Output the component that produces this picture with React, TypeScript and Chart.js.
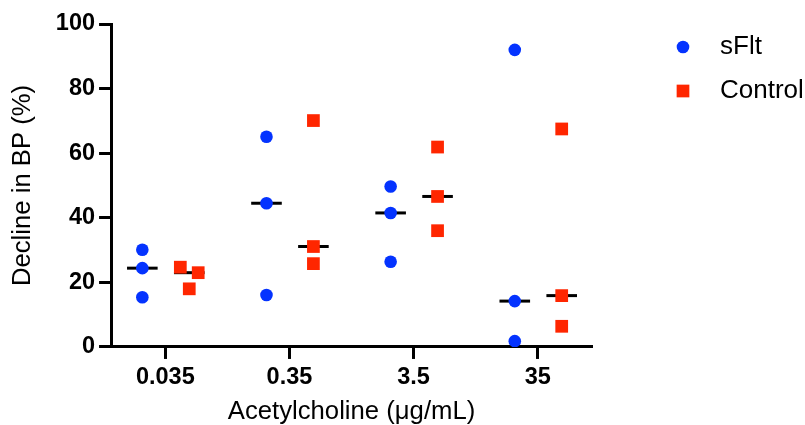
import React, { useEffect, useRef } from 'react';
import { Chart, registerables } from 'chart.js';

Chart.register(...registerables);

// ---- data ----
const doses = ['0.035', '0.35', '3.5', '35'];
const seriesNames = ['sFlt', 'Control'];
const sFltValues = [
  [30.1, 24.4, 15.4],
  [65.1, 44.5, 16.1],
  [49.7, 41.5, 26.4],
  [92.0, 14.2, 1.8],
];
const controlValues = [
  [24.7, 23.0, 18.0],
  [70.1, 31.1, 25.8],
  [61.9, 46.6, 36.0],
  [67.5, 15.9, 6.4],
];
const yTickValues = [0, 20, 40, 60, 80, 100];
const xTitle = 'Acetylcholine (μg/mL)';
const yTitle = 'Decline in BP (%)';

// ---- layout / style constants ----
const SFLT_OFFSET = -0.185;
const CONTROL_OFFSET = 0.193;
const controlJitter = [
  [-0.072, 0.072, 0],
  [0, 0, 0],
  [0, 0, 0],
  [0, 0, 0],
];
const BLUE = '#0433FF';
const RED = '#FF2600';
const FONT = '"Liberation Sans", Arial, Helvetica, sans-serif';

function median(a: number[]) {
  const s = [...a].sort((p, q) => p - q);
  const m = Math.floor(s.length / 2);
  return s.length % 2 ? s[m] : (s[m - 1] + s[m]) / 2;
}

function makeIcon(shape: 'circle' | 'square', color: string) {
  const c = document.createElement('canvas');
  c.width = 16;
  c.height = 16;
  const ctx = c.getContext('2d')!;
  ctx.fillStyle = color;
  if (shape === 'circle') {
    ctx.beginPath();
    ctx.arc(8, 8, 6.3, 0, Math.PI * 2);
    ctx.fill();
  } else {
    ctx.fillRect(8 - 6.35, 8 - 6.35, 12.7, 12.7);
  }
  return c;
}

const points = (values: number[][], offset: number, jitter?: number[][]) =>
  values.flatMap((grp, i) =>
    grp.map((v, j) => ({ x: i + offset + (jitter ? jitter[i][j] : 0), y: v }))
  );
const medians = (values: number[][], offset: number) =>
  values.map((grp, i) => ({ x: i + offset, y: median(grp) }));

export default function App() {
  const ref = useRef<HTMLCanvasElement>(null);

  useEffect(() => {
    if (!ref.current) return;
    const icons = [makeIcon('circle', BLUE), makeIcon('square', RED)];
    const chart = new Chart(ref.current, {
      type: 'scatter',
      data: {
        datasets: [
          {
            label: seriesNames[0],
            data: points(sFltValues, SFLT_OFFSET),
            yAxisID: 'y',
            pointStyle: 'circle',
            pointRadius: 6.3,
            pointHoverRadius: 6.3,
            pointBackgroundColor: BLUE,
            pointBorderColor: BLUE,
            pointBorderWidth: 0,
            backgroundColor: BLUE,
            borderColor: BLUE,
          },
          {
            label: seriesNames[1],
            data: points(controlValues, CONTROL_OFFSET, controlJitter),
            yAxisID: 'y',
            pointStyle: 'rect',
            pointRadius: 9,
            pointHoverRadius: 9,
            pointBackgroundColor: RED,
            pointBorderColor: RED,
            pointBorderWidth: 0,
            backgroundColor: RED,
            borderColor: RED,
          },
          {
            label: 'sFlt median',
            data: medians(sFltValues, SFLT_OFFSET),
            yAxisID: 'y',
            pointStyle: 'line',
            pointRadius: 15.3,
            pointHoverRadius: 15.3,
            pointBorderColor: '#000',
            pointBorderWidth: 3,
            borderColor: '#000',
          },
          {
            label: 'Control median',
            data: medians(controlValues, CONTROL_OFFSET),
            yAxisID: 'y',
            pointStyle: 'line',
            pointRadius: 15.3,
            pointHoverRadius: 15.3,
            pointBorderColor: '#000',
            pointBorderWidth: 3,
            borderColor: '#000',
          },
        ],
      },
      options: {
        responsive: false,
        animation: false,
        events: [],
        layout: { padding: { top: 16, left: 0, right: 0, bottom: 0 } },
        plugins: {
          tooltip: { enabled: false },
          legend: {
            display: true,
            position: 'right',
            align: 'start',
            maxWidth: 164,
            labels: {
              usePointStyle: true,
              pointStyleWidth: 48,
              boxHeight: 12,
              padding: 18,
              color: '#000',
              font: { size: 26, family: FONT },
              filter: (item: any) => item.datasetIndex < 2,
              generateLabels: (ch: any) =>
                (Chart.defaults.plugins.legend.labels.generateLabels as any)(ch).map((item: any) => ({
                  ...item,
                  pointStyle: item.datasetIndex < 2 ? icons[item.datasetIndex] : item.pointStyle,
                })),
            },
          },
        },
        scales: {
          x: {
            type: 'linear',
            min: -0.437,
            max: 3.437,
            afterBuildTicks: (s: any) => {
              s.ticks = doses.map((_, i) => ({ value: i }));
            },
            grid: {
              display: true,
              drawOnChartArea: false,
              drawTicks: true,
              tickLength: 12,
              tickWidth: 3,
              tickColor: '#000',
            },
            border: { display: true, width: 3, color: '#000' },
            ticks: {
              padding: 4,
              color: '#000',
              font: { size: 23.5, weight: 'bold', family: FONT },
              callback: (v: any) => doses[v as number] ?? '',
            },
            title: {
              display: true,
              text: xTitle,
              color: '#000',
              font: { size: 25.7, family: FONT },
              padding: { top: 1, bottom: -2 },
            },
          },
          y: {
            type: 'linear',
            position: 'left',
            min: 0,
            max: 100,
            afterBuildTicks: (s: any) => {
              s.ticks = yTickValues.map((v) => ({ value: v }));
            },
            afterFit: (s: any) => {
              s.paddingTop = 24;
            },
            grid: {
              display: true,
              drawOnChartArea: false,
              drawTicks: true,
              tickLength: 12,
              tickWidth: 3,
              tickColor: '#000',
            },
            border: { display: true, width: 3, color: '#000' },
            ticks: {
              padding: 4,
              color: '#000',
              font: { size: 23.5, weight: 'bold', family: FONT },
            },
            title: {
              display: true,
              text: yTitle,
              color: '#000',
              font: { size: 25.7, family: FONT },
              padding: { top: 7, bottom: 14 },
            },
          },
          y2: {
            type: 'linear',
            position: 'right',
            display: true,
            grid: { display: false, drawTicks: false },
            border: { display: false },
            ticks: { display: false },
            afterFit: (s: any) => {
              s.width = 49;
            },
          },
        },
      } as any,
    });
    return () => chart.destroy();
  }, []);

  return (
    <div style={{ position: 'fixed', left: 0, top: 0, width: 805, height: 425, background: '#fff' }}>
      <canvas ref={ref} width={805} height={425} style={{ display: 'block', width: 805, height: 425 }} />
    </div>
  );
}
